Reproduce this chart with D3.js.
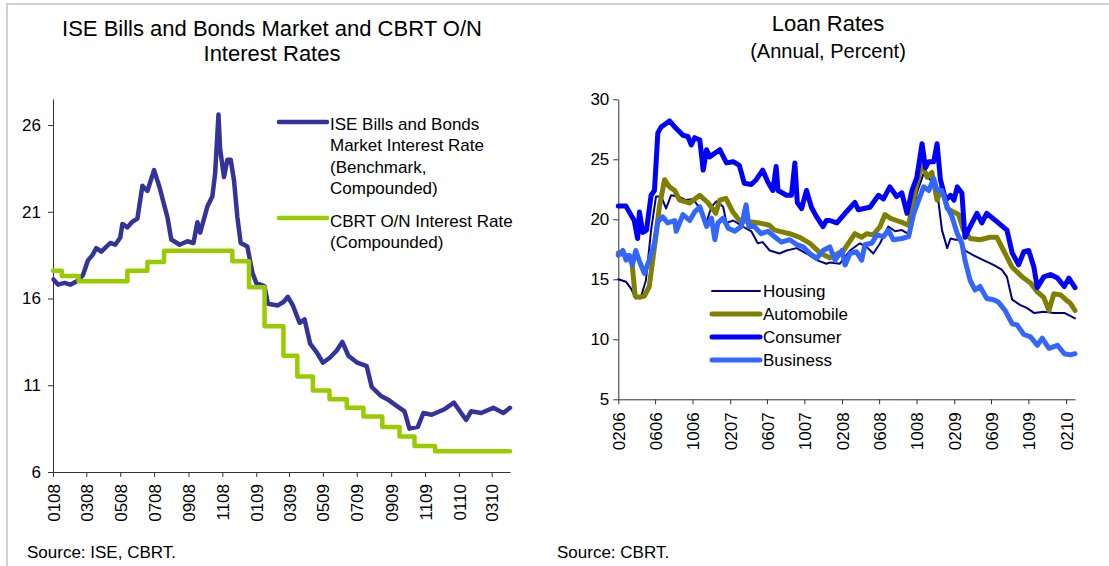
<!DOCTYPE html>
<html><head><meta charset="utf-8">
<script src="https://cdn.jsdelivr.net/npm/d3@7"></script>
<style>
body{margin:0;background:#fff;}
svg text{font-family:"Liberation Sans", Arial, sans-serif;fill:#000;}
</style></head><body>
<svg id="c" width="1109" height="566"></svg>
<script>
// ---------- Left chart data ----------
const leftTickLabels = ["0108","0308","0508","0708","0908","1108","0109","0309","0509","0709","0909","1109","0110","0310"];
const leftYTicks = [6, 11, 16, 21, 26];
const iseDates = ["2008-01-02","2008-01-10","2008-01-22","2008-02-01","2008-02-13","2008-02-24","2008-03-04","2008-03-12","2008-03-19","2008-03-28","2008-04-13","2008-04-22","2008-05-01","2008-05-05","2008-05-14","2008-05-22","2008-06-01","2008-06-10","2008-06-19","2008-07-01","2008-07-11","2008-07-20","2008-07-25","2008-08-01","2008-08-16","2008-08-30","2008-09-10","2008-09-17","2008-09-22","2008-10-05","2008-10-14","2008-10-19","2008-10-25","2008-10-28","2008-11-04","2008-11-10","2008-11-16","2008-11-22","2008-11-28","2008-12-04","2008-12-16","2008-12-25","2009-01-01","2009-01-16","2009-01-22","2009-02-09","2009-02-19","2009-02-27","2009-03-08","2009-03-20","2009-03-29","2009-04-08","2009-04-20","2009-05-01","2009-05-14","2009-05-26","2009-06-05","2009-06-16","2009-07-02","2009-07-19","2009-07-28","2009-08-13","2009-08-25","2009-09-07","2009-09-25","2009-10-04","2009-10-19","2009-10-29","2009-11-13","2009-12-05","2009-12-23","2010-01-05","2010-01-14","2010-01-23","2010-02-10","2010-03-04","2010-03-22","2010-04-03"];
const iseValues = [17.1,16.8,16.9,16.8,17.0,17.35,18.2,18.5,18.9,18.7,19.2,19.1,19.5,20.3,20.1,20.4,20.6,22.5,22.2,23.4,22.4,21.3,20.7,19.4,19.1,19.3,19.2,20.4,19.8,21.3,21.9,23.2,26.6,24.6,23.0,24.0,24.0,22.8,20.7,19.2,19.0,17.5,16.9,16.7,15.7,15.6,15.8,16.1,15.6,14.6,14.8,13.4,12.9,12.3,12.6,13.0,13.5,12.7,12.3,12.1,10.9,10.4,10.2,9.9,9.5,8.5,8.6,9.4,9.3,9.6,10.0,9.4,9.0,9.5,9.4,9.7,9.4,9.7];
const cbrtDates = ["2008-01-01","2008-01-17","2008-02-16","2008-05-14","2008-06-19","2008-07-19","2008-11-19","2008-12-19","2009-01-16","2009-02-19","2009-03-16","2009-04-13","2009-05-13","2009-06-13","2009-07-13","2009-08-16","2009-09-16","2009-10-13","2009-11-19","2010-04-03"];
const cbrtValues = [17.6,17.3,17.0,17.6,18.1,18.75,18.15,16.65,14.4,12.7,11.5,10.7,10.2,9.7,9.2,8.6,8.05,7.5,7.2,7.2];

// ---------- Right chart data ----------
const rightTickLabels = ["0206","0606","1006","0207","0607","1007","0208","0608","1008","0209","0609","1009","0210"];
const rightYTicks = [5, 10, 15, 20, 25, 30];
const housingDates = ["2006-02-01","2006-02-26","2006-03-14","2006-03-30","2006-04-16","2006-05-02","2006-05-19","2006-06-04","2006-06-21","2006-07-07","2006-07-23","2006-08-14","2006-09-11","2006-10-03","2006-10-25","2006-11-16","2006-12-02","2006-12-18","2007-01-09","2007-01-20","2007-02-11","2007-03-14","2007-04-11","2007-05-02","2007-05-18","2007-06-10","2007-07-12","2007-08-04","2007-09-06","2007-10-08","2007-11-10","2007-12-12","2007-12-23","2008-01-25","2008-02-27","2008-03-30","2008-04-21","2008-05-13","2008-06-04","2008-07-01","2008-07-23","2008-08-14","2008-09-10","2008-10-02","2008-10-24","2008-11-15","2008-12-07","2008-12-23","2009-01-09","2009-01-20","2009-02-05","2009-02-20","2009-03-08","2009-04-05","2009-05-07","2009-06-09","2009-07-06","2009-07-23","2009-08-09","2009-09-05","2009-09-27","2009-10-19","2009-11-20","2009-12-23","2010-01-26","2010-03-02"];
const housingValues = [15.0,14.8,14.25,13.4,13.55,14.9,19.1,21.9,21.9,20.9,22.0,21.9,21.6,21.7,20.9,19.8,21.05,21.5,21.05,19.7,19.9,19.4,19.0,18.0,18.1,17.4,17.15,17.4,17.6,17.15,16.6,16.3,16.4,16.3,17.4,18.0,17.7,17.15,18.0,19.4,19.0,19.1,18.7,22.2,23.8,23.3,22.4,19.1,17.6,18.4,18.3,18.3,17.4,17.0,16.6,16.2,15.8,15.2,13.3,12.85,12.6,12.2,12.3,12.2,12.2,11.75];
const autoDates = ["2006-02-01","2006-02-26","2006-03-09","2006-03-18","2006-03-28","2006-04-11","2006-04-27","2006-05-13","2006-05-30","2006-06-15","2006-07-02","2006-07-18","2006-08-04","2006-08-20","2006-09-22","2006-10-25","2006-11-20","2006-12-16","2006-12-29","2007-01-18","2007-02-10","2007-03-03","2007-04-05","2007-05-07","2007-06-09","2007-06-26","2007-08-14","2007-09-16","2007-10-19","2007-11-21","2007-12-23","2008-02-06","2008-03-14","2008-04-05","2008-04-21","2008-05-13","2008-06-04","2008-06-20","2008-07-06","2008-07-28","2008-08-19","2008-09-05","2008-09-27","2008-10-19","2008-11-04","2008-11-20","2008-12-07","2008-12-23","2009-01-09","2009-01-31","2009-02-15","2009-03-03","2009-03-25","2009-04-26","2009-05-29","2009-06-20","2009-07-12","2009-08-09","2009-09-11","2009-10-08","2009-10-30","2009-11-20","2009-12-07","2009-12-23","2010-01-14","2010-01-31","2010-02-15","2010-03-02"];
const autoValues = [17.2,17.0,16.8,16.3,13.6,13.5,13.6,14.4,17.7,21.05,23.3,22.7,22.4,21.6,21.35,22.0,21.4,20.5,21.6,21.75,20.6,19.9,19.8,19.7,19.5,19.1,18.8,18.5,18.0,17.2,16.8,17.4,18.8,18.5,18.8,18.7,19.4,20.4,20.1,19.9,19.7,19.5,22.4,24.7,23.5,23.9,21.6,22.7,20.9,20.6,20.4,19.1,18.4,18.3,18.5,18.5,17.4,16.0,15.2,14.7,13.95,13.5,12.4,13.8,13.7,13.3,13.0,12.4];
const consumerDates = ["2006-02-01","2006-02-26","2006-03-09","2006-03-25","2006-04-05","2006-04-11","2006-04-22","2006-05-04","2006-05-19","2006-05-30","2006-06-10","2006-06-21","2006-07-18","2006-08-04","2006-08-31","2006-09-16","2006-09-27","2006-10-08","2006-10-25","2006-11-05","2006-11-16","2006-11-26","2006-12-29","2007-01-20","2007-02-11","2007-03-03","2007-03-19","2007-04-11","2007-04-27","2007-05-18","2007-06-04","2007-06-20","2007-07-01","2007-07-07","2007-08-04","2007-08-20","2007-08-31","2007-09-08","2007-09-22","2007-10-08","2007-10-24","2007-11-10","2007-12-01","2007-12-12","2007-12-23","2008-01-15","2008-02-11","2008-03-14","2008-03-25","2008-05-02","2008-05-30","2008-06-15","2008-07-06","2008-07-28","2008-08-14","2008-08-31","2008-09-16","2008-10-02","2008-10-19","2008-10-30","2008-11-10","2008-11-26","2008-12-07","2008-12-18","2009-01-04","2009-01-20","2009-01-31","2009-02-11","2009-02-26","2009-03-08","2009-03-25","2009-04-16","2009-05-02","2009-05-18","2009-06-20","2009-07-23","2009-08-09","2009-08-30","2009-09-16","2009-10-02","2009-10-19","2009-10-30","2009-11-20","2009-12-12","2010-01-04","2010-01-26","2010-02-10","2010-03-02"];
const consumerValues = [21.1,21.1,20.6,19.9,18.4,20.6,18.9,19.1,22.0,22.4,27.2,27.7,28.2,27.7,27.0,26.9,26.2,26.8,26.6,24.1,25.8,25.2,25.8,24.7,24.8,24.5,23.0,22.9,23.3,24.1,23.1,22.4,24.4,22.4,22.0,22.0,24.7,21.4,20.9,22.4,21.0,20.2,19.4,19.9,19.9,19.7,20.5,21.4,20.8,21.0,22.0,21.7,22.7,21.9,22.2,20.5,22.4,23.5,26.3,24.3,24.8,24.8,26.3,23.3,21.6,22.0,21.6,22.7,22.2,18.5,19.4,20.5,19.7,20.5,19.8,19.1,17.2,16.2,17.3,17.4,16.0,14.3,15.2,15.4,15.1,14.4,15.1,14.3];
const businessDates = ["2006-02-01","2006-02-16","2006-02-26","2006-03-09","2006-03-19","2006-03-30","2006-04-11","2006-04-27","2006-05-13","2006-05-30","2006-06-10","2006-06-26","2006-07-12","2006-08-04","2006-08-09","2006-08-31","2006-09-22","2006-10-08","2006-10-25","2006-11-16","2006-12-02","2006-12-13","2006-12-23","2007-01-09","2007-01-26","2007-02-16","2007-03-09","2007-03-25","2007-04-03","2007-04-21","2007-05-13","2007-06-04","2007-06-26","2007-07-18","2007-08-14","2007-09-06","2007-09-27","2007-10-19","2007-11-10","2007-12-01","2007-12-23","2008-01-09","2008-02-01","2008-02-11","2008-02-27","2008-03-19","2008-04-05","2008-04-16","2008-05-08","2008-05-24","2008-06-15","2008-07-01","2008-07-17","2008-08-14","2008-09-05","2008-09-22","2008-10-08","2008-10-24","2008-11-10","2008-11-26","2008-12-07","2008-12-23","2009-01-09","2009-01-25","2009-02-11","2009-02-26","2009-03-08","2009-03-25","2009-04-10","2009-04-26","2009-05-18","2009-06-09","2009-06-25","2009-07-17","2009-08-09","2009-08-25","2009-09-16","2009-10-08","2009-10-30","2009-11-15","2009-12-07","2010-01-04","2010-01-26","2010-02-15","2010-03-02"];
const businessValues = [17.0,17.4,16.6,17.0,16.2,17.4,16.5,15.5,16.6,18.0,19.8,20.2,19.7,19.9,19.0,20.4,19.9,20.6,21.05,19.4,20.1,18.3,19.7,20.1,19.25,19.0,19.4,21.2,19.4,19.4,18.8,19.0,18.55,18.1,18.3,17.9,17.7,17.15,16.75,17.4,17.7,16.6,17.4,16.2,17.15,17.3,16.6,17.9,18.0,18.7,18.55,19.1,18.3,18.4,18.55,20.5,21.6,22.7,22.4,23.4,22.4,22.4,21.05,20.2,18.8,18.0,16.6,14.9,14.1,14.4,13.4,13.3,13.1,12.4,11.3,11.2,10.4,10.2,9.5,10.1,9.25,9.5,8.8,8.7,8.8];

const parseDate = d3.timeParse("%Y-%m-%d");
const parseTick = d3.timeParse("%m%y");
const fmtTick = d3.timeFormat("%m%y");
const zip = (ds, vs) => ds.map((d, i) => ({date: parseDate(d), value: vs[i]}));

const svg = d3.select("#c");
const FONT = 17;

// frame
svg.append("line").attr("x1", 7).attr("x2", 1109).attr("y1", 4).attr("y2", 4).attr("stroke", "#d4d0c8").attr("stroke-width", 2);
svg.append("line").attr("x1", 7).attr("x2", 7).attr("y1", 3).attr("y2", 566).attr("stroke", "#d4d0c8").attr("stroke-width", 2);

function drawChart(cfg) {
  const x = d3.scaleTime().domain(cfg.xDomain.map(parseDate)).range([cfg.left, cfg.right]);
  const y = d3.scaleLinear().domain(cfg.yDomain).range([cfg.bottom, cfg.top]);
  const g = svg.append("g");

  const yAxis = d3.axisLeft(y).tickValues(cfg.yTicks).tickSize(5).tickSizeOuter(0).tickPadding(cfg.yPad).tickFormat(d3.format("d"));
  const ya = g.append("g").attr("transform", `translate(${cfg.left},0)`).call(yAxis);
  ya.selectAll("text").attr("font-size", FONT).attr("font-family", "Liberation Sans, Arial, sans-serif").attr("fill", "#000");
  ya.selectAll("line,path").attr("stroke", "#333");

  const xAxis = d3.axisBottom(x).tickValues(cfg.xTicks.map(parseTick)).tickSize(5).tickSizeOuter(0).tickFormat(fmtTick);
  const xa = g.append("g").attr("transform", `translate(0,${cfg.bottom})`).call(xAxis);
  xa.selectAll("text").attr("font-size", FONT).attr("font-family", "Liberation Sans, Arial, sans-serif").attr("fill", "#000")
    .attr("transform", "rotate(-90)").attr("text-anchor", "end").attr("x", -cfg.xPad).attr("y", 0).attr("dy", "0.36em");
  xa.selectAll("line,path").attr("stroke", "#333");

  cfg.series.forEach(s => {
    const line = d3.line().x(d => x(d.date)).y(d => y(d.value)).curve(s.step ? d3.curveStepAfter : d3.curveLinear);
    g.append("path").datum(zip(s.dates, s.values)).attr("d", line).attr("fill", "none")
      .attr("stroke", s.color).attr("stroke-width", s.width).attr("stroke-linejoin", "round").attr("stroke-linecap", "round");
  });
}

// Left chart
drawChart({
  left: 53, right: 510, top: 99, bottom: 472,
  xDomain: ["2008-01-01", "2010-04-03"], yDomain: [6, 27.5],
  yTicks: leftYTicks, xTicks: leftTickLabels, yPad: 7, xPad: 12,
  series: [
    {dates: iseDates, values: iseValues, color: "#333399", width: 4.5},
    {dates: cbrtDates, values: cbrtValues, color: "#99cc00", width: 4.5, step: true}
  ]
});

// Right chart
drawChart({
  left: 618.3, right: 1075, top: 99.3, bottom: 399.3,
  xDomain: ["2006-02-01", "2010-03-02"], yDomain: [5, 30],
  yTicks: rightYTicks, xTicks: rightTickLabels, yPad: 4, xPad: 13,
  series: [
    {dates: housingDates, values: housingValues, color: "#000080", width: 2},
    {dates: autoDates, values: autoValues, color: "#808000", width: 5},
    {dates: consumerDates, values: consumerValues, color: "#0000ff", width: 5},
    {dates: businessDates, values: businessValues, color: "#3366ff", width: 5}
  ]
});

function text(x, y, str, size, anchor) {
  svg.append("text").attr("x", x).attr("y", y).attr("font-size", size).attr("text-anchor", anchor || "start").text(str);
}

// Titles
text(272, 36, "ISE Bills and Bonds Market and CBRT O/N", 22, "middle");
text(272, 61, "Interest Rates", 22, "middle");
text(828, 31, "Loan Rates", 22, "middle");
text(828, 58, "(Annual, Percent)", 20, "middle");

// Left legend
const leftLegend = [
  {color: "#333399", y: 122, lines: ["ISE Bills and Bonds", "Market Interest Rate", "(Benchmark,", "Compounded)"], top: 130},
  {color: "#99cc00", y: 218, lines: ["CBRT O/N Interest Rate", "(Compounded)"], top: 227}
];
leftLegend.forEach(e => {
  svg.append("line").attr("x1", 279).attr("x2", 327).attr("y1", e.y).attr("y2", e.y).attr("stroke", e.color).attr("stroke-width", 4.5).attr("stroke-linecap", "round");
  e.lines.forEach((l, i) => text(330, e.top + i * 21.4, l, FONT));
});

// Right legend
const rightLegend = [
  {name: "Housing", color: "#000080", w: 2},
  {name: "Automobile", color: "#808000", w: 5},
  {name: "Consumer", color: "#0000ff", w: 5},
  {name: "Business", color: "#3366ff", w: 5}
];
rightLegend.forEach((e, i) => {
  const cy = 291 + i * 23;
  svg.append("line").attr("x1", 712).attr("x2", 760).attr("y1", cy).attr("y2", cy).attr("stroke", e.color).attr("stroke-width", e.w).attr("stroke-linecap", "round");
  text(763, cy + 6, e.name, FONT);
});

// Sources
text(27, 558, "Source: ISE, CBRT.", FONT);
text(557, 558, "Source: CBRT.", FONT);
</script>
</body></html>
